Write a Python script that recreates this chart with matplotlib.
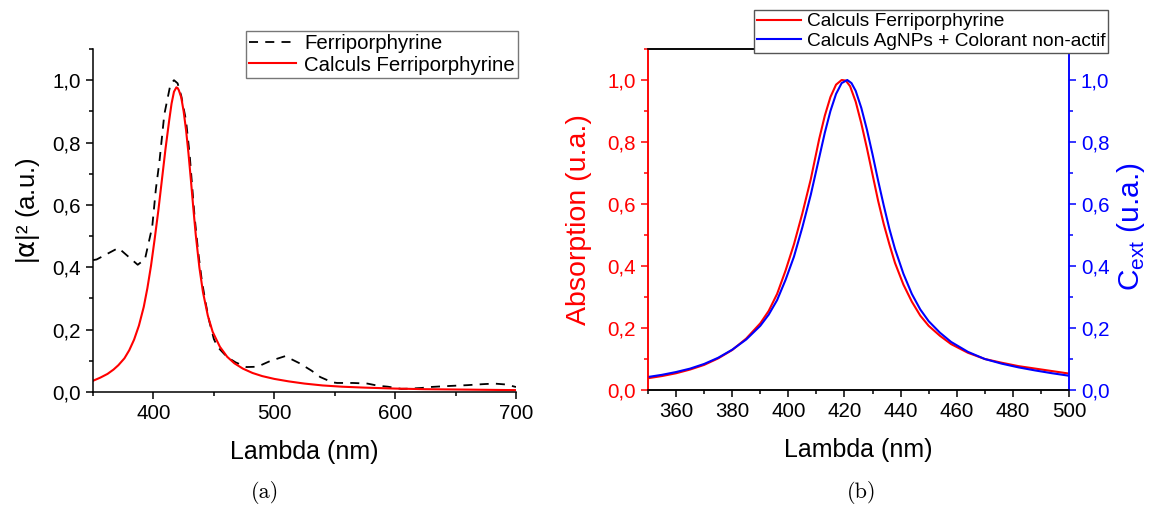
import numpy as np
import matplotlib
matplotlib.use("Agg")
import matplotlib.pyplot as plt
from matplotlib.ticker import MultipleLocator, FuncFormatter

plt.rcParams['font.family'] = ['Liberation Sans', 'DejaVu Sans']
plt.rcParams['mathtext.fontset'] = 'dejavusans'

# (a) measured spectrum, dashed
exp_x = [350, 353, 371, 387, 393, 399, 402, 405, 409, 414, 417, 420, 423, 427, 430,
         434, 437, 440, 443, 446, 450, 453, 461, 468, 477, 486, 497, 509, 521,
         531, 538, 548, 552, 565, 577, 586, 594, 605, 613, 622, 629, 643, 660,
         672, 682, 692, 700]
exp_y = [0.423, 0.425, 0.462, 0.408, 0.426, 0.53, 0.65, 0.74, 0.89, 0.985, 1.0, 0.99,
         0.95, 0.87, 0.76, 0.565, 0.45, 0.359, 0.29, 0.23, 0.17, 0.145, 0.112, 0.095,
         0.08, 0.081, 0.1, 0.115, 0.092, 0.068, 0.048, 0.031, 0.029, 0.029, 0.027,
         0.02, 0.017, 0.01, 0.011, 0.013, 0.016, 0.019, 0.022, 0.025, 0.027, 0.024, 0.016]

# (a) calculated spectrum
calc_x = [350, 356, 362, 367, 371, 376, 380, 384, 388, 392, 395, 398, 401, 404, 407,
          410, 413, 415, 417, 419, 420, 421, 423, 425, 427, 429, 431, 433, 435, 438,
          441, 445, 449, 455, 461, 467, 474, 482, 490, 500, 512, 525, 540, 556, 575,
          600, 625, 650, 675, 700]
calc_y = [0.036, 0.046, 0.058, 0.072, 0.086, 0.108, 0.134, 0.168, 0.213, 0.273, 0.333,
          0.405, 0.49, 0.58, 0.68, 0.78, 0.87, 0.925, 0.963, 0.977, 0.975, 0.968, 0.945,
          0.9, 0.84, 0.765, 0.68, 0.59, 0.505, 0.4, 0.32, 0.245, 0.193, 0.145, 0.113,
          0.092, 0.075, 0.061, 0.051, 0.042, 0.034, 0.027, 0.021, 0.017, 0.014,
          0.011, 0.009, 0.008, 0.007, 0.006]

# (b) calculated absorption (red) and extinction (blue)
abs_x = [350, 355, 360, 365, 370, 375, 380, 385, 390, 393, 396, 399, 402, 405, 408,
         411, 413, 415, 417, 419, 420.5, 422, 424, 426, 428, 430, 432, 434, 436, 438,
         441, 444, 447, 450, 454, 458, 464, 470, 476, 482, 488, 494, 500]
abs_y = [0.038, 0.045, 0.054, 0.066, 0.081, 0.102, 0.129, 0.166, 0.215, 0.255, 0.31,
         0.385, 0.47, 0.57, 0.68, 0.81, 0.885, 0.945, 0.985, 1.0, 0.998, 0.98, 0.93,
         0.86, 0.78, 0.695, 0.61, 0.535, 0.47, 0.41, 0.34, 0.285, 0.24, 0.207, 0.175,
         0.148, 0.12, 0.1, 0.088, 0.077, 0.069, 0.061, 0.053]
ext_x = [350, 355, 360, 365, 370, 375, 380, 385, 390, 393, 396, 399, 402, 405, 408,
         411, 413, 415, 417, 419, 421, 422.5, 424, 426, 428, 430, 432, 434, 436, 438,
         441, 444, 447, 450, 454, 458, 464, 470, 476, 482, 488, 494, 500]
ext_y = [0.042, 0.049, 0.058, 0.069, 0.084, 0.104, 0.13, 0.163, 0.207, 0.243, 0.29,
         0.355, 0.43, 0.525, 0.63, 0.75, 0.83, 0.9, 0.955, 0.99, 1.0, 0.99, 0.965,
         0.91, 0.84, 0.76, 0.675, 0.595, 0.52, 0.455, 0.375, 0.31, 0.26, 0.222, 0.185,
         0.155, 0.123, 0.1, 0.085, 0.073, 0.063, 0.054, 0.046]

fig = plt.figure(figsize=(11.57, 5.09), dpi=100)
W, H = 1157, 509

def box(x0, y0, x1, y1):
    return [x0 / W, 1 - y1 / H, (x1 - x0) / W, (y1 - y0) / H]

comma = FuncFormatter(lambda v, p: ("%.1f" % v).replace('.', ','))
TS = 14.8

# ---- (a)
ax1 = fig.add_axes(box(93, 49, 516, 392))
ax1.plot(exp_x, exp_y, color='black', ls=(0, (5, 4)), lw=1.3, label='Ferriporphyrine')
ax1.plot(calc_x, calc_y, color='red', lw=1.5, label='Calculs Ferriporphyrine')
ax1.set_xlim(350, 700)
ax1.set_ylim(0, 1.1)
ax1.xaxis.set_major_locator(MultipleLocator(100))
ax1.xaxis.set_minor_locator(MultipleLocator(50))
ax1.yaxis.set_major_locator(MultipleLocator(0.2))
ax1.yaxis.set_minor_locator(MultipleLocator(0.1))
ax1.yaxis.set_major_formatter(comma)
ax1.tick_params(which='major', length=5, width=1.1, direction='out', labelsize=TS)
ax1.tick_params(which='minor', length=3, width=1.1, direction='out')
for s in ['top', 'right']:
    ax1.spines[s].set_visible(False)
for s in ['left', 'bottom']:
    ax1.spines[s].set_linewidth(1.1)
ax1.set_xlabel('Lambda (nm)', fontsize=18)
ax1.set_ylabel('|$\\mathrm{\\alpha}$|² (a.u.)', fontsize=18.5)
ax1.xaxis.set_label_coords(0.5, -0.14)
ax1.yaxis.set_label_coords(-0.12, 0.53)
leg1 = ax1.legend(loc='upper left', bbox_to_anchor=(246 / W, 1 - 31 / H),
                  bbox_transform=fig.transFigure, fontsize=14.7, frameon=True,
                  fancybox=False, edgecolor='#555555', handlelength=2.3,
                  borderpad=0.15, labelspacing=0.12, handletextpad=0.4,
                  borderaxespad=0)
leg1.get_frame().set_linewidth(1.0)

# ---- (b)
ax2 = fig.add_axes(box(648, 49, 1069, 390))
ax3 = ax2.twinx()
l1, = ax2.plot(abs_x, abs_y, color='red', lw=1.5, label='Calculs Ferriporphyrine')
l2, = ax3.plot(ext_x, ext_y, color='blue', lw=1.5,
               label='Calculs AgNPs + Colorant non-actif')
for a in (ax2, ax3):
    a.set_xlim(350, 500)
    a.set_ylim(0, 1.1)
    a.yaxis.set_major_locator(MultipleLocator(0.2))
    a.yaxis.set_minor_locator(MultipleLocator(0.1))
    a.yaxis.set_major_formatter(comma)
ax2.xaxis.set_major_locator(MultipleLocator(20))
ax2.xaxis.set_minor_locator(MultipleLocator(10))
ax2.tick_params(which='major', length=5, width=1.1, direction='out', labelsize=TS)
ax2.tick_params(which='minor', length=3, width=1.1, direction='out')
ax2.tick_params(axis='y', which='both', colors='red')
ax3.tick_params(axis='y', which='major', length=5, width=1.1, direction='out',
                labelsize=TS, colors='blue')
ax3.tick_params(axis='y', which='minor', length=3, width=1.1, direction='out',
                colors='blue')
# top axis: ticks pointing inward, no labels
ax3.tick_params(axis='x', which='major', top=True, bottom=False, direction='in',
                length=5, width=1.1, labeltop=False, labelbottom=False, color='black')
ax3.tick_params(axis='x', which='minor', top=True, bottom=False, direction='in',
                length=3, width=1.1, color='black')

for a in (ax2, ax3):
    for s in a.spines.values():
        s.set_linewidth(1.1)
    a.spines['left'].set_color('red')
    a.spines['right'].set_color('blue')
ax2.set_xlabel('Lambda (nm)', fontsize=18)
ax2.xaxis.set_label_coords(0.5, -0.14)
ax2.set_ylabel('Absorption (u.a.)', fontsize=20.5, color='red')
ax2.yaxis.set_label_coords(-0.133, 0.5)
ax3.set_ylabel('C$_\\mathregular{ext}$ (u.a.)', fontsize=21.5, color='blue')
ax3.yaxis.set_label_coords(1.109, 0.48)
leg2 = ax3.legend(handles=[l1, l2], loc='upper left',
                  bbox_to_anchor=(754 / W, 1 - 10 / H),
                  bbox_transform=fig.transFigure, fontsize=13.8, frameon=True,
                  fancybox=False, edgecolor='#555555', handlelength=2.3,
                  framealpha=1, borderpad=0.15, labelspacing=0.12,
                  handletextpad=0.3, borderaxespad=0)
leg2.get_frame().set_linewidth(1.0)
leg2.set_zorder(10)

fig.text(265 / W, 1 - 492 / H, '(a)', fontsize=16, family='cmr10',
         ha='center', va='center')
fig.text(862 / W, 1 - 492 / H, '(b)', fontsize=16, family='cmr10',
         ha='center', va='center')

fig.savefig('out.png', dpi=100)
